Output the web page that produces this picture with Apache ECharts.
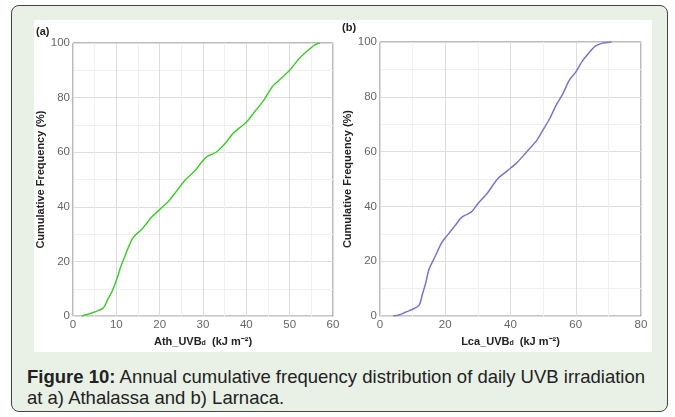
<!DOCTYPE html>
<html>
<head>
<meta charset="utf-8">
<script src="https://cdn.jsdelivr.net/npm/echarts@6/dist/echarts.min.js"></script>
<style>
  body { margin: 0; width: 675px; height: 417px; background: #fff; position: relative; font-family: Arial, "Liberation Sans", sans-serif; }
  #frame { position: absolute; left: 11px; top: 5px; width: 655px; height: 405px; border: 1.5px solid #444; border-radius: 8px; background: #e9f1e7; }
  #chart { position: absolute; left: 34px; top: 20px; width: 618px; height: 332px; background: #fff; }
  #cap { position: absolute; left: 27px; top: 366px; width: 645px; font-size: 18.5px; line-height: 21px; color: #222; white-space: nowrap; }
</style>
</head>
<body>
<div id="frame"></div>
<div id="chart"></div>
<div id="cap"><b>Figure 10:</b> Annual cumulative frequency distribution of daily UVB irradiation<br>at a) Athalassa and b) Larnaca.</div>
<script>
// (a) Athalassa
const athX = [2, 3, 5, 7, 8, 9, 10, 11, 12, 13, 14, 16, 18, 20, 22, 24, 26, 28, 30, 31, 33, 35, 37, 40, 42, 44, 46, 48, 50, 52, 54, 56, 57]
const athY = [0, 0.5, 1.5, 3, 6, 9, 13, 18, 22, 26, 29, 32, 36, 39, 42, 46, 50, 53, 57, 58.5, 60, 63, 67, 71, 75, 79, 84, 87, 90, 94, 97, 99.5, 100]
// (b) Larnaca
const lcaX = [4, 6, 8, 10, 12, 13, 14, 15, 17, 19, 21, 23, 25, 28, 30, 33, 36, 39, 42, 45, 48, 50, 52, 54, 56, 58, 60, 62, 64, 66, 68, 71]
const lcaY = [0, 0.5, 1.5, 2.5, 4, 8, 12, 17, 22, 27, 30, 33, 36, 38, 41, 45, 50, 53, 56, 60, 64, 68, 72, 77, 81, 86, 89, 93, 96, 98.5, 99.5, 100]

const zip = (xs, ys) => xs.map((x, i) => [x, ys[i]])

const lbl = { color: '#666', fontSize: 11.5, margin: 3 }
const split = { show: true, lineStyle: { color: '#ddd' } }
const minor = { show: true, lineStyle: { color: '#f0f0f0' } }

function xAxis (idx, max, interval, name) {
  return {
    type: 'value', gridIndex: idx, min: 0, max: max, interval: interval,
    name: name, nameLocation: 'middle', nameGap: 14,
    nameTextStyle: { fontWeight: 'bold', fontSize: 11, color: '#222', rich: { s: { fontSize: 7, fontWeight: 'bold', verticalAlign: 'bottom' } } },
    axisLine: { show: false }, axisTick: { show: false }, axisLabel: lbl,
    splitLine: split, minorTick: { show: false, splitNumber: 2 }, minorSplitLine: minor
  }
}
function yAxis (idx) {
  return {
    type: 'value', gridIndex: idx, min: 0, max: 100, interval: 20,
    name: 'Cumulative Frequency (%)', nameLocation: 'middle', nameGap: 22,
    nameTextStyle: { fontWeight: 'bold', fontSize: 11, color: '#222' },
    axisLine: { show: false }, axisTick: { show: false }, axisLabel: lbl,
    splitLine: split, minorTick: { show: false, splitNumber: 2 }, minorSplitLine: minor
  }
}

const chart = echarts.init(document.getElementById('chart'))
chart.setOption({
  animation: false,
  grid: [
    { left: 39, top: 23, width: 260, height: 280, show: true, borderColor: '#777', borderWidth: 1 },
    { left: 346, top: 22, width: 261, height: 280, show: true, borderColor: '#777', borderWidth: 1 }
  ],
  xAxis: [
    xAxis(0, 60, 10, 'Ath_UVB{s|d}  (kJ m⁻²)'),
    xAxis(1, 80, 20, 'Lca_UVB{s|d}  (kJ m⁻²)')
  ],
  yAxis: [yAxis(0), yAxis(1)],
  graphic: [
    { type: 'text', left: 2, top: 6, style: { text: '(a)', font: 'bold 11px Arial', fill: '#222' } },
    { type: 'text', left: 308, top: 2, style: { text: '(b)', font: 'bold 11px Arial', fill: '#222' } }
  ],
  series: [
    { type: 'line', xAxisIndex: 0, yAxisIndex: 0, data: zip(athX, athY), showSymbol: false, smooth: 0.3, lineStyle: { color: '#44cc33', width: 1.5 } },
    { type: 'line', xAxisIndex: 1, yAxisIndex: 1, data: zip(lcaX, lcaY), showSymbol: false, smooth: 0.3, lineStyle: { color: '#7777cc', width: 1.5 } }
  ]
})
</script>
</body>
</html>
